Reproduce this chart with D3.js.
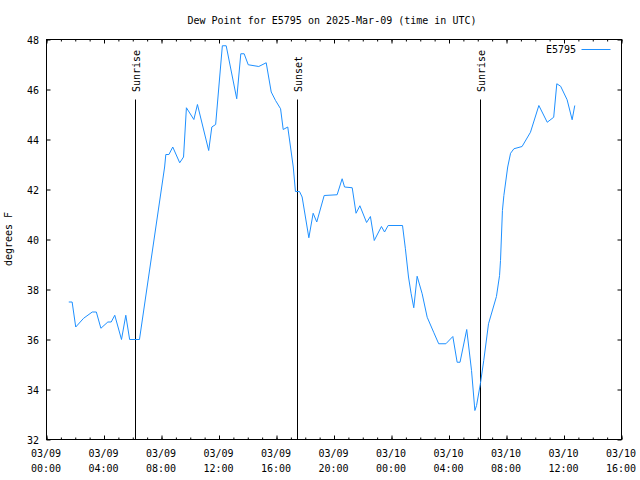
<!DOCTYPE html>
<html>
<head>
<meta charset="utf-8">
<script src="https://cdn.jsdelivr.net/npm/d3@7"></script>
<style>
html,body{margin:0;padding:0;background:#fff;}
svg{display:block;}
text{font-family:"DejaVu Sans Mono","Liberation Mono",monospace;font-size:10px;fill:#000;}
</style>
</head>
<body>
<svg id="chart" width="640" height="480"></svg>
<script>
// ---- data ----
const times = [
"2025-03-09T01:33","2025-03-09T01:47","2025-03-09T02:02","2025-03-09T02:35","2025-03-09T03:11","2025-03-09T03:28",
"2025-03-09T03:47","2025-03-09T04:16","2025-03-09T04:30","2025-03-09T04:45","2025-03-09T05:13","2025-03-09T05:31",
"2025-03-09T05:47","2025-03-09T06:28","2025-03-09T08:13","2025-03-09T08:18","2025-03-09T08:31","2025-03-09T08:47",
"2025-03-09T09:16","2025-03-09T09:32","2025-03-09T09:44","2025-03-09T10:15","2025-03-09T10:30","2025-03-09T11:17",
"2025-03-09T11:30","2025-03-09T11:46","2025-03-09T12:14","2025-03-09T12:30","2025-03-09T13:14","2025-03-09T13:31",
"2025-03-09T13:45","2025-03-09T14:02","2025-03-09T14:46","2025-03-09T15:17","2025-03-09T15:38","2025-03-09T15:56",
"2025-03-09T16:17","2025-03-09T16:28","2025-03-09T16:47","2025-03-09T17:10","2025-03-09T17:19","2025-03-09T17:36",
"2025-03-09T17:47","2025-03-09T18:15","2025-03-09T18:33","2025-03-09T18:48","2025-03-09T19:19","2025-03-09T20:13",
"2025-03-09T20:34","2025-03-09T20:44","2025-03-09T21:16","2025-03-09T21:32","2025-03-09T21:48","2025-03-09T22:16",
"2025-03-09T22:32","2025-03-09T22:48","2025-03-09T23:18","2025-03-09T23:31","2025-03-09T23:46","2025-03-10T00:46",
"2025-03-10T00:58","2025-03-10T01:11","2025-03-10T01:22","2025-03-10T01:33","2025-03-10T01:47","2025-03-10T02:08",
"2025-03-10T02:29","2025-03-10T02:56","2025-03-10T03:17","2025-03-10T03:47","2025-03-10T04:16","2025-03-10T04:34",
"2025-03-10T04:46","2025-03-10T05:14","2025-03-10T05:34","2025-03-10T05:48","2025-03-10T05:55","2025-03-10T06:11",
"2025-03-10T06:25","2025-03-10T06:45","2025-03-10T07:18","2025-03-10T07:31","2025-03-10T07:35","2025-03-10T07:43",
"2025-03-10T07:49","2025-03-10T08:05","2025-03-10T08:17","2025-03-10T08:31","2025-03-10T09:05","2025-03-10T09:40",
"2025-03-10T10:15","2025-03-10T10:50","2025-03-10T11:17","2025-03-10T11:30","2025-03-10T11:46","2025-03-10T12:13",
"2025-03-10T12:34","2025-03-10T12:45"
];
const dewPoint = [
37.5,37.5,36.5,36.85,37.1,37.1,
36.45,36.7,36.7,36.97,36.0,36.97,
36.0,36.0,42.9,43.4,43.4,43.7,
43.07,43.3,45.27,44.8,45.4,43.56,
44.5,44.6,47.75,47.75,45.63,47.43,
47.43,46.99,46.92,47.07,45.9,45.56,
45.23,44.4,44.5,42.9,41.92,41.92,
41.7,40.07,41.05,40.7,41.76,41.79,
42.43,42.1,42.07,41.05,41.35,40.68,
40.92,39.96,40.52,40.3,40.56,40.56,
39.63,38.5,37.83,37.27,38.53,37.83,
36.89,36.29,35.83,35.83,36.12,35.09,
35.09,36.4,34.76,33.16,33.36,34.23,
35.16,36.63,37.72,38.56,39.16,41.16,
41.76,42.9,43.45,43.63,43.72,44.29,
45.36,44.69,44.89,46.23,46.13,45.59,
44.79,45.36
];
const sunEvents = ["Sunrise","Sunset","Sunrise"];
const sunTimes = ["2025-03-09T06:11","2025-03-09T17:29","2025-03-10T06:11"];
const yTicks = [32,34,36,38,40,42,44,46,48];
const xDomain = ["2025-03-09T00:00","2025-03-10T16:00"];
const seriesName = "E5795";
const titleText = "Dew Point for E5795 on 2025-Mar-09 (time in UTC)";
const yLabel = "degrees F";

// ---- drawing ----
const parse = s => new Date(s + ":00Z");
const svg = d3.select("#chart");
const L = 46, R = 621, T = 39, B = 439;
const x = d3.scaleUtc().domain(xDomain.map(parse)).range([L, R]);
const y = d3.scaleLinear().domain([32, 48]).range([B, T]);
const g = svg.append("g").attr("transform", "translate(0.5,0.5)");

// title
svg.append("text").attr("x", 332).attr("y", 24).attr("text-anchor", "middle").text(titleText);
// y label
svg.append("text").attr("transform", "translate(12,239) rotate(-90)").attr("text-anchor", "middle").text(yLabel);

function clean(sel){ sel.select(".domain").remove(); sel.selectAll("line").attr("stroke","#000"); }

// minor x ticks (every hour)
g.append("g").attr("transform", `translate(0,${B})`)
  .call(d3.axisBottom(x).ticks(d3.utcHour.every(1)).tickSize(-2).tickSizeOuter(0).tickFormat(""))
  .call(clean);
g.append("g").attr("transform", `translate(0,${T})`)
  .call(d3.axisTop(x).ticks(d3.utcHour.every(1)).tickSize(-2).tickSizeOuter(0).tickFormat(""))
  .call(clean);
// major x ticks
g.append("g").attr("transform", `translate(0,${B})`)
  .call(d3.axisBottom(x).ticks(d3.utcHour.every(4)).tickSize(-4).tickSizeOuter(0).tickFormat(""))
  .call(clean);
g.append("g").attr("transform", `translate(0,${T})`)
  .call(d3.axisTop(x).ticks(d3.utcHour.every(4)).tickSize(-4).tickSizeOuter(0).tickFormat(""))
  .call(clean);
// x labels (two lines)
const fmt1 = d3.utcFormat("%m/%d"), fmt2 = d3.utcFormat("%H:%M");
const xt = x.ticks(d3.utcHour.every(4));
const xl = svg.append("g").selectAll("text").data(xt).join("text")
  .attr("text-anchor", "middle");
xl.append("tspan").attr("x", d => x(d)).attr("y", 457).text(d => fmt1(d));
xl.append("tspan").attr("x", d => x(d)).attr("y", 472).text(d => fmt2(d));

// y ticks
g.append("g").attr("transform", `translate(${L},0)`)
  .call(d3.axisLeft(y).tickValues(yTicks).tickSize(-4).tickSizeOuter(0).tickPadding(7).tickFormat(d3.format("d")))
  .call(clean)
  .call(s => s.selectAll("text").attr("font-family", null).attr("font-size", null).attr("dy", "0.35em").attr("transform","translate(-0.5,0)"));
g.append("g").attr("transform", `translate(${R},0)`)
  .call(d3.axisRight(y).tickValues(yTicks).tickSize(-4).tickSizeOuter(0).tickFormat(""))
  .call(clean);

// sun event lines
sunTimes.forEach((t, i) => {
  const sx = Math.round(x(parse(t)));
  g.append("line").attr("x1", sx).attr("x2", sx).attr("y1", 99).attr("y2", B).attr("stroke", "#000");
  svg.append("text").attr("transform", `translate(${sx + 5},92) rotate(-90)`).attr("text-anchor", "start").text(sunEvents[i]);
});

// data line
const pts = times.map((t, i) => [parse(t), dewPoint[i]]);
g.append("path").datum(pts)
  .attr("fill", "none").attr("stroke", "#1e90ff").attr("stroke-width", 1)
  .attr("d", d3.line().x(d => x(d[0])).y(d => y(d[1])));

// border
g.append("rect").attr("x", L).attr("y", T).attr("width", R - L).attr("height", B - T)
  .attr("fill", "none").attr("stroke", "#000");

// legend
svg.append("text").attr("x", 576).attr("y", 53).attr("text-anchor", "end").text(seriesName);
g.append("line").attr("x1", 581).attr("x2", 610).attr("y1", 49).attr("y2", 49).attr("stroke", "#1e90ff");
</script>
</body>
</html>
